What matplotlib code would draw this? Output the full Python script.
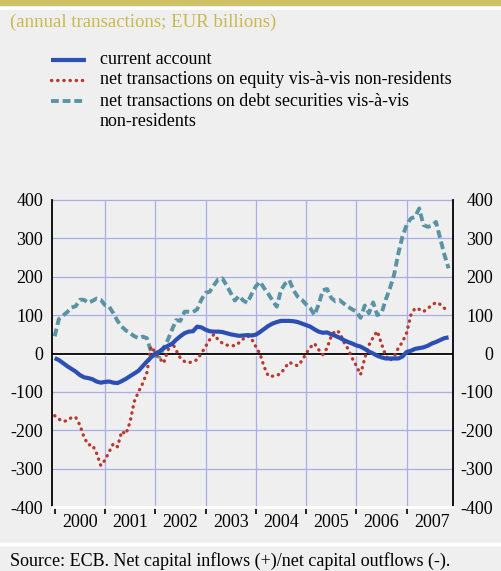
import matplotlib
matplotlib.use("Agg")
import matplotlib.pyplot as plt
from matplotlib.lines import Line2D
from matplotlib.patches import Rectangle
import numpy as np

plt.rcParams['font.family'] = ['Liberation Serif', 'DejaVu Serif']

# monthly, Jan 2000 .. Nov 2007 (EUR billions, 12-month sums)
years = ["2000", "2001", "2002", "2003", "2004", "2005", "2006", "2007"]
current_account = [
    -12, -17, -25, -33, -40, -47, -56, -62, -64, -67, -73, -76,
    -74, -73, -76, -77, -72, -66, -59, -52, -45, -33, -21, -10,
    0, 5, 14, 20, 25, 36, 45, 53, 57, 58, 70, 68,
    62, 58, 57, 57, 56, 53, 50, 48, 46, 47, 48, 47,
    49, 56, 64, 72, 78, 82, 85, 85, 85, 84, 82, 78,
    74, 70, 63, 57, 54, 55, 50, 46, 41, 35, 30, 26,
    21, 18, 12, 5, 0, -6, -10, -13, -13, -13, -13, -8,
    4, 7, 12, 14, 16, 20, 26, 30, 35, 40, 42,
]
equity = [
    -162, -171, -177, -175, -167, -166, -186, -218, -238, -238, -260, -292,
    -278, -256, -235, -243, -203, -210, -178, -125, -100, -78, -50, 18,
    3, -12, -25, 8, 29, 8, -12, -21, -24, -21, -16, 0,
    18, 36, 50, 36, 27, 22, 21, 20, 28, 38, 46, 38,
    18, -1, -35, -59, -59, -57, -52, -36, -23, -28, -32, -19,
    0, 16, 26, 10, -3, 14, 45, 60, 55, 30, 12, -12,
    -32, -55, -12, 22, 42, 58, 25, -5, -19, -8, 14, 30,
    54, 100, 118, 115, 109, 117, 126, 133, 128, 118, 110,
]
debt = [
    45, 90, 99, 108, 120, 123, 140, 140, 132, 137, 143, 140,
    126, 122, 105, 85, 70, 60, 53, 45, 40, 44, 40, 5,
    -6, -8, 15, 35, 62, 87, 85, 109, 109, 108, 115, 140,
    158, 161, 178, 193, 196, 178, 158, 138, 150, 138, 132, 155,
    175, 187, 170, 155, 138, 122, 165, 182, 191, 165, 148, 140,
    128, 118, 100, 128, 165, 168, 145, 136, 139, 130, 122, 115,
    109, 93, 125, 105, 133, 100, 105, 140, 170, 205, 260, 305,
    335, 352, 356, 378, 335, 330, 333, 343, 300, 258, 222,
]
months = np.arange(len(current_account))

W, H = 501, 571
BG = "#efefef"
GRID = "#a9aee8"
BLUE = "#2b4fb3"
RED = "#b83a2e"
TEAL = "#5a93a3"
GOLD = "#c9b84c"

ca_style = dict(color=BLUE, lw=3.0, solid_capstyle="butt")
eq_style = dict(color=RED, lw=2.4, linestyle=(0, (0.1, 1.75)), dash_capstyle="round")
debt_style = dict(color=TEAL, lw=2.8, linestyle=(0, (2.0, 1.0)), dash_capstyle="butt")


def fx(px):
    return px / W


def fy(py):
    return 1 - py / H


fig = plt.figure(figsize=(W / 100, H / 100), dpi=100, facecolor=BG)

# top band + subtitle
fig.add_artist(Rectangle((0, fy(6)), 1, 6 / H, transform=fig.transFigure,
                         facecolor="#cfc165", edgecolor="none"))
fig.add_artist(Line2D([0, 1], [fy(7.5), fy(7.5)], transform=fig.transFigure,
                      color="white", lw=2.2))
fig.text(fx(10), fy(22), "(annual transactions; EUR billions)", color=GOLD,
         fontsize=13.5, va="center", ha="left")

# legend (drawn by hand, last entry wraps)
for style, y in [(ca_style, 60), (eq_style, 80), (debt_style, 101)]:
    fig.add_artist(Line2D([fx(51), fx(86)], [fy(y), fy(y)], transform=fig.transFigure, **style))
leg_text = [("current account", 60),
            ("net transactions on equity vis-à-vis non-residents", 80),
            ("net transactions on debt securities vis-à-vis", 101),
            ("non-residents", 122)]
for s, y in leg_text:
    fig.text(fx(100), fy(y), s, fontsize=13, va="center", ha="left")

# main axes
ax = fig.add_axes([fx(52), fy(507), (453 - 52) / W, (507 - 200) / H])
ax.set_facecolor(BG)
ax.set_xlim(-0.64, 95.06)
ax.set_ylim(-400, 400)

for v in [-300, -200, -100, 100, 200, 300, 400]:
    ax.axhline(v, color=GRID, lw=0.9, zorder=1, clip_on=False)
for m in range(12, 96, 12):
    ax.axvline(m, color=GRID, lw=0.9, zorder=1)
ax.axhline(-4.5, color="white", lw=1.6, zorder=1.5)
ax.axhline(0, color="black", lw=1.3, zorder=1.6)

ax.plot(months, debt, zorder=3, **debt_style)
ax.plot(months, equity, zorder=3, **eq_style)
ax.plot(months, current_account, zorder=4, **ca_style)

for s in ["left", "right"]:
    ax.spines[s].set_color("black")
    ax.spines[s].set_linewidth(1.3)
ax.spines["top"].set_visible(False)
ax.spines["bottom"].set_color("white")
ax.spines["bottom"].set_linewidth(2.0)

ax.set_xticks(list(range(0, 96, 12)))
ax.set_xticklabels([])
ax.tick_params(axis="x", which="major", direction="out", length=5, width=1.2, color="black")
ax.set_xticks([m + 6 for m in range(0, 96, 12)], minor=True)
ax.set_xticklabels(years, minor=True, fontsize=13)
ax.tick_params(axis="x", which="minor", length=0, pad=5)

yt = list(range(-400, 401, 100))
ax.set_yticks(yt)
ax.set_yticklabels([str(v) for v in yt], fontsize=13)
ax.tick_params(axis="y", length=0, pad=6.5)

ax2 = ax.twinx()
ax2.set_ylim(-400, 400)
ax2.set_yticks(yt)
ax2.set_yticklabels([str(v) for v in yt], fontsize=13)
ax2.tick_params(axis="y", length=0, pad=28.8)
for t in ax2.get_yticklabels():
    t.set_horizontalalignment("right")
for s in ax2.spines.values():
    s.set_visible(False)

# footer
fig.add_artist(Line2D([0, 1], [fy(544), fy(544)], transform=fig.transFigure, color="white", lw=2.5))
fig.text(fx(10), fy(561), "Source: ECB. Net capital inflows (+)/net capital outflows (-).",
         fontsize=13, va="center", ha="left")

fig.savefig("out.png", dpi=100, facecolor=fig.get_facecolor())
